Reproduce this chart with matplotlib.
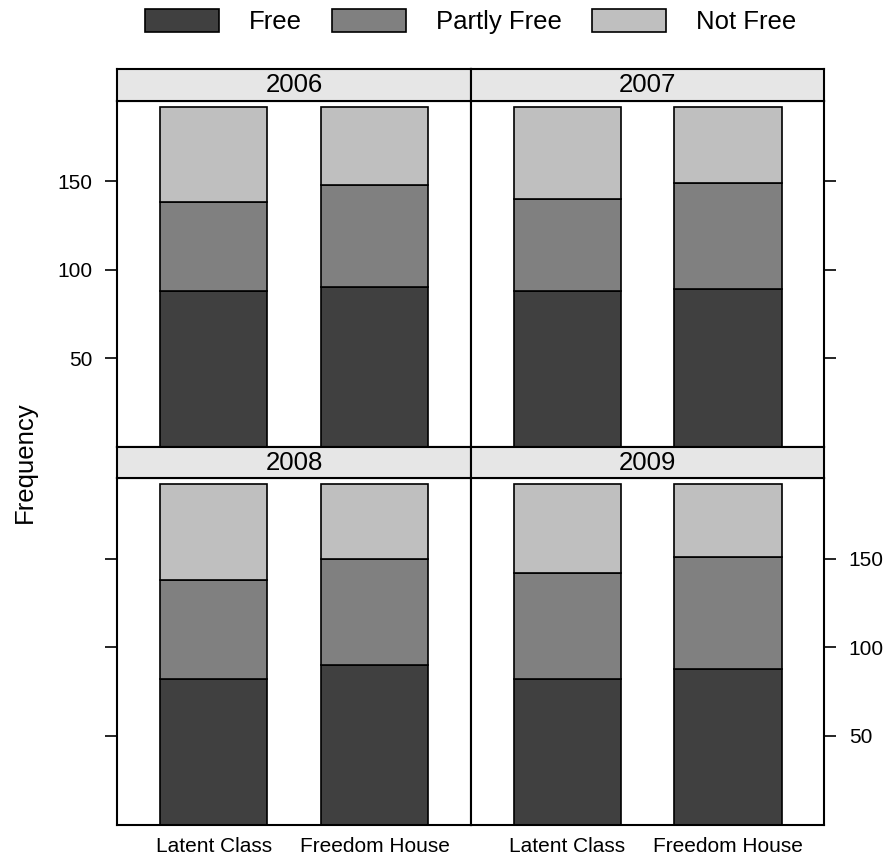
import matplotlib
matplotlib.use("Agg")
import matplotlib.pyplot as plt
from matplotlib.patches import Patch
import numpy as np

plt.rcParams['font.family'] = ['Liberation Sans', 'DejaVu Sans']

years = ['2006', '2007', '2008', '2009']
measures = ['Latent Class', 'Freedom House']
statuses = ['Free', 'Partly Free', 'Not Free']
colors = ['#404040', '#808080', '#bfbfbf']

# counts per year, one list per measure
free_lc = [88, 88, 82, 82]
free_fh = [90, 89, 90, 88]
partly_lc = [50, 52, 56, 60]
partly_fh = [58, 60, 60, 63]
notfree_lc = [54, 52, 54, 50]
notfree_fh = [44, 43, 42, 41]
yticks = [50, 100, 150]

W, H = 886, 858
fig = plt.figure(figsize=(W / 100, H / 100), dpi=100)

def box(x0, y0, x1, y1):
    return [x0 / W, 1 - y1 / H, (x1 - x0) / W, (y1 - y0) / H]

cols = [(117.3, 471.0), (471.0, 824.4)]
rows = [((69.0, 100.7), (100.7, 447.0)), ((447.0, 478.3), (478.3, 824.6))]

x = np.arange(1, len(measures) + 1)
for i, yr in enumerate(years):
    r, c = divmod(i, 2)
    (sy0, sy1), (py0, py1) = rows[r]
    cx0, cx1 = cols[c]
    ax = fig.add_axes(box(cx0, py0, cx1, py1))
    stacks = [[free_lc[i], free_fh[i]], [partly_lc[i], partly_fh[i]], [notfree_lc[i], notfree_fh[i]]]
    bottom = np.zeros(len(measures))
    for vals, col in zip(stacks, colors):
        ax.bar(x, vals, width=2 / 3, bottom=bottom, color=col, edgecolor='black', linewidth=1.2)
        bottom += np.array(vals)
    ax.set_xlim(0.4, 2.6)
    ax.set_ylim(0, 195.4)
    for s in ax.spines.values():
        s.set_linewidth(1.5)
    ax.set_yticks(yticks)
    ax.tick_params(axis='y', length=8.6, width=1.2, labelsize=15, pad=9)
    ax.tick_params(axis='x', length=0, labelsize=15, pad=9)
    if r == 1:
        ax.set_xticks(x)
        ax.set_xticklabels(measures)
    else:
        ax.set_xticks([])
    if c == 0:
        ax.yaxis.set_ticks_position('left')
        ax.tick_params(axis='y', labelleft=(r == 0))
    else:
        ax.yaxis.set_ticks_position('right')
        ax.tick_params(axis='y', labelright=(r == 1), labelleft=False)

    sax = fig.add_axes(box(cx0, sy0, cx1, sy1))
    sax.set_facecolor('#e6e6e6')
    sax.set_xticks([])
    sax.set_yticks([])
    for s in sax.spines.values():
        s.set_linewidth(1.5)
    sax.text(0.5, 0.48, yr, ha='center', va='center', fontsize=18.5, transform=sax.transAxes)

fig.text(25 / W, 1 - 462 / H, 'Frequency', rotation=90, ha='center', va='center', fontsize=18.5)

handles = [Patch(facecolor=c, edgecolor='black', linewidth=1.2) for c in colors]
fig.legend(handles, statuses, loc='upper center', bbox_to_anchor=(471 / W, 1 - 4 / H), ncol=3,
           frameon=False, fontsize=18.5, handlelength=2.88, handleheight=1.0,
           handletextpad=1.17, columnspacing=1.17, borderaxespad=0.0, borderpad=0.2)

fig.savefig('out.png', dpi=100)
